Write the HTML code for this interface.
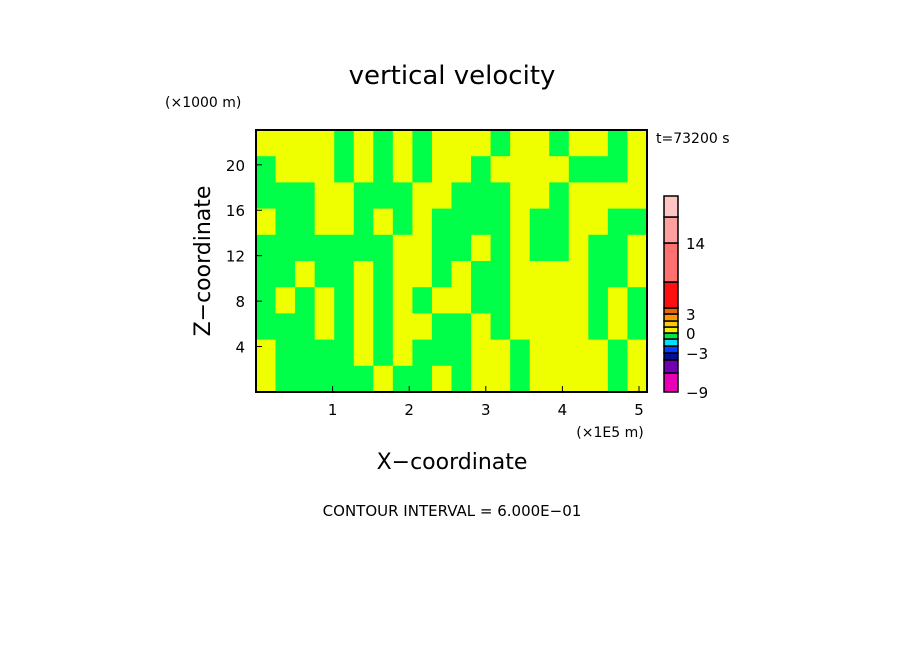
<!DOCTYPE html>
<html><head><meta charset="utf-8"><style>
body{margin:0;background:#fff;width:904px;height:654px;overflow:hidden}
svg text{font-family:"DejaVu Sans","Liberation Sans",sans-serif;fill:#000}
</style></head><body>
<svg id="c" width="904" height="654">
<text x="452" y="84" font-size="26" text-anchor="middle">vertical velocity</text>
<text x="165" y="107" font-size="14">(×1000 m)</text>
<text x="656" y="143" font-size="14">t=73200 s</text>
<g id="field"></g>
<rect x="256" y="130" width="391" height="262" fill="none" stroke="#000" stroke-width="2"/>
<g id="ticks"></g>
<text x="610" y="437" font-size="14" text-anchor="middle">(×1E5 m)</text>
<text x="452" y="469" font-size="22" text-anchor="middle">X−coordinate</text>
<text transform="translate(210,261) rotate(-90)" font-size="22" text-anchor="middle">Z−coordinate</text>
<text x="452" y="516" font-size="15" text-anchor="middle">CONTOUR INTERVAL = 6.000E−01</text>
<g id="cbar"></g>
</svg>
<script>
const fieldRows=[
"YYYYGYGYGYYYGYYGYYGY",
"GYYYGYGYGYYGYYYYGGGY",
"GGGYYGGGYYGGGYYGYYYY",
"YGGYYGYGYGGGGYGGYYGG",
"GGGGGGGYYGGYGYGGYGGY",
"GGYGGYGYYGYGGYYYYGGY",
"GYGYGYGYGYYGGYYYYGYG",
"GGGYGYGYYGGYGYYYYGYG",
"YGGGGYGYGGGYYGYYYYGY",
"YGGGGGYGGYGYYGYYYYGY"];
const xTicks=[1,2,3,4,5];
const yTicks=[4,8,12,16,20];
const cbColors=["#e800b8","#7000b0","#0c0c98","#0040ff","#00e0ff","#00e848","#f0f000","#ffcc00","#ff9900","#e86800","#ff1010","#ff7070","#ffa0a0","#ffc4c4"];
const cbBounds=[392,373,360,353,346,339,333,327,321,314,308,282,243,217,196];
const cbLabels=["-9","-3","0","3","14"];
const cbLabelPos=[0,3,6,9,12];
const NS="http://www.w3.org/2000/svg";
const X=v=>256+v*76.6, Y=v=>392-v*11.36;
function mk(t,a,p){const e=document.createElementNS(NS,t);for(const k in a)e.setAttribute(k,a[k]);p.appendChild(e);return e;}
const f=document.getElementById('field');
const nr=fieldRows.length,nc=fieldRows[0].length,cw=391/nc,ch=262/nr;
fieldRows.forEach((r,i)=>{[...r].forEach((c,j)=>{
const e=mk('rect',{x:256+j*cw,y:130+i*ch,width:cw+0.5,height:ch+0.5,fill:c=='Y'?'#f0ff00':'#00ff48'},f);


});});
const tk=document.getElementById('ticks');
xTicks.forEach(v=>{mk('line',{x1:X(v),x2:X(v),y1:392,y2:386,stroke:'#000'},tk);
const t=mk('text',{x:X(v),y:415,'font-size':15,'text-anchor':'middle'},tk);t.textContent=v;

});
yTicks.forEach(v=>{mk('line',{x1:256,x2:262,y1:Y(v),y2:Y(v),stroke:'#000'},tk);
const t=mk('text',{x:245,y:Y(v)+6,'font-size':15,'text-anchor':'end'},tk);t.textContent=v;

});
const cb=document.getElementById('cbar');
cbColors.forEach((c,i)=>{const e=mk('rect',{x:664,y:cbBounds[i+1],width:14,height:cbBounds[i]-cbBounds[i+1],fill:c,stroke:'#000','stroke-width':1.5},cb);

});
cbLabels.forEach((l,i)=>{const t=mk('text',{x:686,y:cbBounds[cbLabelPos[i]]+6,'font-size':15},cb);t.textContent=l.replace('-','−');

});
</script>
</body></html>
